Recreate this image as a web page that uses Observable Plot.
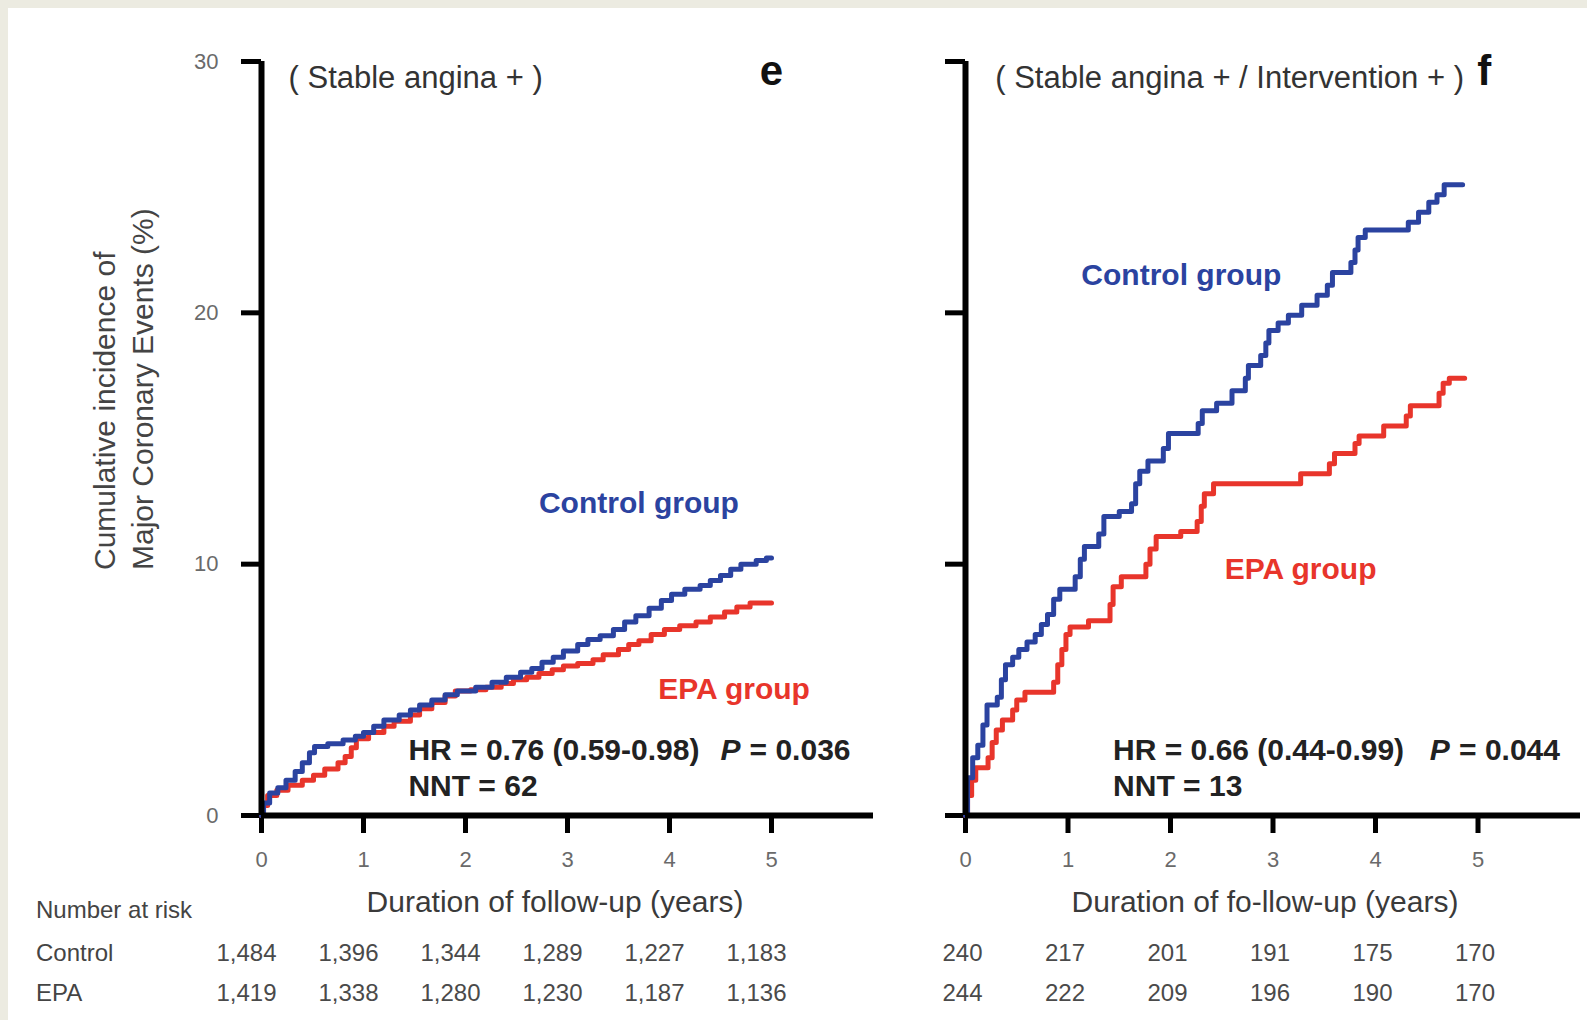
<!DOCTYPE html>
<html>
<head>
<meta charset="utf-8">
<script src="https://cdn.jsdelivr.net/npm/d3@7"></script>
<script src="https://cdn.jsdelivr.net/npm/@observablehq/plot@0.6"></script>
<style>
  html, body { margin: 0; padding: 0; background: #ecebe1; }
  #page { position: relative; width: 1587px; height: 1020px; overflow: hidden; background: #ecebe1;
          font-family: "Liberation Sans", Arial, Helvetica, sans-serif; }
  #white { position: absolute; left: 8px; top: 8px; right: 0; bottom: 0; background: #fff; }
  .layer { position: absolute; left: 0; top: 0; pointer-events: none; }
  .layer svg { overflow: visible; }
  .lbl { position: absolute; white-space: nowrap; color: #3a3a3a; line-height: 1; }
  .c { transform: translate(-50%, -50%); }
  .l { transform: translate(0, -50%); }
  /* axis styling */
  .layer g[aria-label$="axis tick"] { stroke-width: 5px; stroke: #000; }
  .layer g[aria-label$="axis"] .tick line { stroke-width: 5px; stroke: #000; }
  .layer g[aria-label$="tick label"], .layer g[aria-label$="axis"] .tick text { fill: #6a6a6a; font-size: 22px; }
  #ylab { position: absolute; left: 86px; top: 570px; transform: rotate(-90deg); transform-origin: left top;
          white-space: nowrap; font-size: 30px; line-height: 38px; color: #444; }
</style>
</head>
<body>
<div id="page">
  <div id="white"></div>
  <div id="ylab">Cumulative incidence of<br>Major Coronary Events (%)</div>
  <div class="lbl c" style="left:555px; top:902px; font-size:30px;">Duration of follow-up (years)</div>
  <div class="lbl c" style="left:1265px; top:902px; font-size:30px;">Duration of fo-llow-up (years)</div>
  <div class="lbl l" style="left:36px; top:910px; font-size:24px; color:#444;">Number at risk</div>
  <div class="lbl l" style="left:36px; top:953px; font-size:24px; color:#444;">Control</div>
  <div class="lbl l" style="left:36px; top:993px; font-size:24px; color:#444;">EPA</div>
</div>
<script>
// ---------------- data ----------------
const yearTicks = [0, 1, 2, 3, 4, 5];
const pctTicks = [0, 10, 20, 30];
const groups = ["Control", "EPA"];

// Panel e (Stable angina +)
const eControlT = [0,0.02,0.08,0.16,0.24,0.33,0.4,0.47,0.52,0.65,0.8,0.92,1.0,1.1,1.2,1.35,1.46,1.55,1.67,1.8,1.92,2.1,2.26,2.4,2.54,2.65,2.75,2.86,2.96,3.1,3.2,3.32,3.45,3.56,3.67,3.8,3.92,4.02,4.15,4.3,4.4,4.5,4.6,4.7,4.85,4.95,5.0];
const eControlV = [0,0.5,0.9,1.1,1.4,1.75,2.1,2.5,2.75,2.85,3.0,3.15,3.3,3.55,3.8,4.0,4.2,4.4,4.6,4.8,4.95,5.1,5.3,5.5,5.7,5.85,6.1,6.3,6.55,6.8,7.0,7.15,7.4,7.7,7.95,8.25,8.55,8.8,9.0,9.15,9.35,9.55,9.8,10.0,10.15,10.25,10.25];
const eEpaT = [0,0.02,0.06,0.15,0.26,0.4,0.51,0.62,0.75,0.82,0.88,0.93,1.05,1.2,1.3,1.46,1.55,1.67,1.8,1.9,2.05,2.2,2.35,2.47,2.6,2.72,2.85,2.96,3.1,3.25,3.35,3.5,3.6,3.7,3.82,3.95,4.1,4.26,4.4,4.54,4.66,4.79,5.0];
const eEpaV = [0,0.4,0.8,1.0,1.2,1.4,1.6,1.85,2.1,2.35,2.7,3.05,3.3,3.55,3.75,4.0,4.25,4.5,4.75,4.95,5.0,5.1,5.25,5.4,5.5,5.65,5.8,5.95,6.05,6.2,6.4,6.6,6.8,6.95,7.2,7.4,7.55,7.7,7.9,8.1,8.3,8.45,8.45];
const eRiskControl = [1484, 1396, 1344, 1289, 1227, 1183];
const eRiskEpa = [1419, 1338, 1280, 1230, 1187, 1136];

// Panel f (Stable angina + / Intervention +)
const fControlT = [0,0.02,0.07,0.12,0.17,0.21,0.31,0.35,0.39,0.46,0.52,0.6,0.68,0.74,0.8,0.86,0.92,1.07,1.12,1.16,1.3,1.35,1.5,1.62,1.66,1.7,1.78,1.93,1.98,2.27,2.31,2.45,2.6,2.73,2.76,2.88,2.93,2.96,3.05,3.15,3.28,3.43,3.53,3.58,3.76,3.8,3.83,3.9,4.32,4.42,4.52,4.6,4.67,4.85];
const fControlV = [0,1.5,2.3,2.8,3.6,4.4,4.7,5.4,6.0,6.3,6.6,6.9,7.2,7.6,8.0,8.6,9.0,9.5,10.2,10.7,11.2,11.9,12.1,12.4,13.2,13.7,14.1,14.6,15.2,15.6,16.1,16.4,16.9,17.4,17.9,18.3,18.8,19.3,19.6,19.9,20.3,20.7,21.1,21.6,22.0,22.5,23.0,23.3,23.6,24.0,24.4,24.7,25.1,25.1];
const fEpaT = [0,0.02,0.06,0.1,0.22,0.26,0.3,0.36,0.46,0.5,0.58,0.86,0.9,0.94,0.98,1.02,1.2,1.41,1.44,1.52,1.76,1.8,1.86,2.1,2.26,2.3,2.33,2.42,3.27,3.55,3.6,3.8,3.84,4.08,4.3,4.34,4.62,4.66,4.72,4.87];
const fEpaV = [0,0.8,1.4,1.9,2.3,2.9,3.4,3.8,4.2,4.6,4.9,5.3,6.0,6.6,7.2,7.5,7.75,8.4,9.1,9.5,10.0,10.6,11.1,11.3,11.7,12.3,12.8,13.2,13.6,14.0,14.4,14.8,15.1,15.5,15.9,16.3,16.8,17.2,17.4,17.4];
const fRiskControl = [240, 217, 201, 191, 175, 170];
const fRiskEpa = [244, 222, 209, 196, 190, 170];

// ---------------- drawing ----------------
const W = 1587, H = 1020;
const BLUE = "#2b43a0", RED = "#e8352b", FONT = "Liberation Sans, Arial, Helvetica, sans-serif";
const toPts = (T, V) => T.map((t, i) => ({t, v: V[i]}));

function panel(cfg) {
  const ctrl = toPts(cfg.ctrlT, cfg.ctrlV), epa = toPts(cfg.epaT, cfg.epaV);
  return Plot.plot({
    width: W, height: H,
    marginLeft: cfg.left, marginRight: W - cfg.right, marginTop: 61, marginBottom: H - 815,
    style: {background: "transparent", fontFamily: FONT, fontSize: "22px", color: "#000", overflow: "visible"},
    x: {domain: [0, 6], ticks: yearTicks, tickSize: 18, tickPadding: 18, tickFormat: d => String(d), label: null},
    y: {domain: [0, 30], ticks: pctTicks, tickSize: 20, tickPadding: 23,
        tickFormat: cfg.yLabels ? (d => String(d)) : (() => ""), label: null},
    marks: [
      Plot.line(epa, {x: "t", y: "v", stroke: RED, strokeWidth: 5, curve: "step-after"}),
      Plot.line(ctrl, {x: "t", y: "v", stroke: BLUE, strokeWidth: 5, curve: "step-after"}),
      Plot.ruleX([0], {y1: 0, y2: 30, stroke: "#000", strokeWidth: 6}),
      Plot.ruleY([0], {x1: 0, x2: 6, stroke: "#000", strokeWidth: 6}),
      Plot.text([cfg.subtitle], {x: cfg.subX, y: 29.33, textAnchor: "start", fontSize: 31, fill: "#333"}),
      Plot.text([cfg.letter], {x: cfg.letterX, y: 29.6, fontSize: 42, fontWeight: "bold", fill: "#111"}),
      Plot.text(["Control group"], {x: cfg.ctrlLabel[0], y: cfg.ctrlLabel[1], textAnchor: "start", fontSize: 30, fontWeight: "bold", fill: BLUE}),
      Plot.text(["EPA group"], {x: cfg.epaLabel[0], y: cfg.epaLabel[1], textAnchor: "start", fontSize: 30, fontWeight: "bold", fill: RED}),
      Plot.text([cfg.hr], {x: 1.44, y: 2.59, textAnchor: "start", fontSize: 30, fontWeight: "bold", fill: "#222"}),
      Plot.text(["P"], {x: cfg.pX, y: 2.59, textAnchor: "start", fontSize: 30, fontWeight: "bold", fontStyle: "italic", fill: "#222"}),
      Plot.text([cfg.pVal], {x: cfg.pX + 0.285, y: 2.59, textAnchor: "start", fontSize: 30, fontWeight: "bold", fill: "#222"}),
      Plot.text([cfg.nnt], {x: 1.44, y: 1.15, textAnchor: "start", fontSize: 30, fontWeight: "bold", fill: "#222"})
    ]
  });
}

function riskTable(cfg) {
  const rows = [];
  yearTicks.forEach((yr, i) => {
    rows.push({year: yr, group: groups[0], n: cfg.control[i]});
    rows.push({year: yr, group: groups[1], n: cfg.epa[i]});
  });
  return Plot.plot({
    width: W, height: H,
    marginLeft: cfg.left, marginRight: W - cfg.right, marginTop: 0, marginBottom: 0,
    style: {background: "transparent", fontFamily: FONT, overflow: "visible"},
    x: {domain: [0, 6], axis: null},
    y: {type: "point", domain: groups, range: [953, 993], padding: 0, axis: null},
    marks: [
      Plot.text(rows, {x: "year", y: "group", text: d => d3.format(",")(d.n), dx: cfg.dx, fontSize: 24, fill: "#4a4a4a"})
    ]
  });
}

const page = document.getElementById("page");
function add(el) { const d = document.createElement("div"); d.className = "layer"; d.appendChild(el); page.appendChild(d); }

add(panel({left: 261, right: 873, ctrlT: eControlT, ctrlV: eControlV, epaT: eEpaT, epaV: eEpaV, yLabels: true,
  subtitle: "( Stable angina + )", subX: 0.265, letter: "e", letterX: 5.0,
  ctrlLabel: [2.72, 12.42], epaLabel: [3.89, 5.0],
  hr: "HR = 0.76 (0.59-0.98)", pX: 4.5, pVal: "= 0.036", nnt: "NNT = 62"}));
add(panel({left: 965, right: 1580, ctrlT: fControlT, ctrlV: fControlV, epaT: fEpaT, epaV: fEpaV, yLabels: false,
  subtitle: "( Stable angina + / Intervention + )", subX: 0.29, letter: "f", letterX: 5.06,
  ctrlLabel: [1.13, 21.5], epaLabel: [2.53, 9.8],
  hr: "HR = 0.66 (0.44-0.99)", pX: 4.53, pVal: "= 0.044", nnt: "NNT = 13"}));
add(riskTable({left: 261, right: 873, control: eRiskControl, epa: eRiskEpa, dx: -15}));
add(riskTable({left: 965, right: 1580, control: fRiskControl, epa: fRiskEpa, dx: -3}));
</script>
</body>
</html>
